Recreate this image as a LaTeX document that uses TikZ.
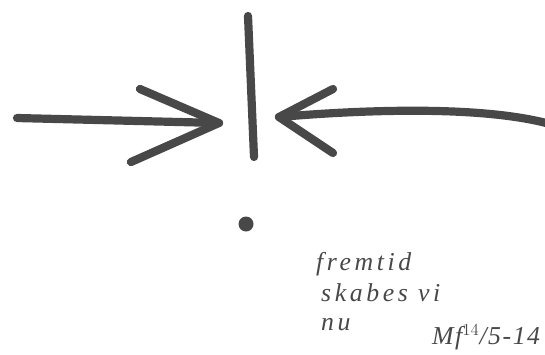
\documentclass[tikz,border=0pt]{standalone}
\usepackage{fontspec}
\setmainfont{Liberation Serif}
\usetikzlibrary{positioning}
\definecolor{ink}{RGB}{72,72,72}
\tikzset{
    marker/.style={draw=ink, line width=7pt, line cap=round, line join=round},
    scrawl/.style={font=\itshape\fontsize{22}{24}\selectfont\addfontfeature{LetterSpace=14}, text=ink, anchor=west, inner sep=0pt},
    signature/.style={scrawl, font=\itshape\fontsize{22}{24}\selectfont\addfontfeature{LetterSpace=6}}
}
\begin{document}
\begin{tikzpicture}[x=0.03cm, y=-0.03cm]
\useasboundingbox (0,0) rectangle (545,354);

% Left arrow
\coordinate (ltail) at (17,118);
\coordinate (ltip) at (219,123);
\coordinate (lup) at (140,89);
\coordinate (llow) at (131,162);
\draw[marker] (ltail) -- (ltip);
\draw[marker] (lup) -- (ltip) -- (llow);

% Wall
\coordinate (wtop) at (248,16);
\coordinate (wbot) at (254,157);
\draw[marker] (wtop) -- (wbot);

% Right arrow
\coordinate (rtip) at (279,117);
\coordinate (rtail) at (550,124);
\coordinate (rup) at (333,89);
\coordinate (rlow) at (333,153);
\draw[marker] (rtip) .. controls (360,110) and (480,105) .. (rtail);
\draw[marker] (rup) -- (rtip) -- (rlow);

% Dot
\node[circle, fill=ink, inner sep=0pt, minimum size=0.45cm] (dot) at (246,224) {};

% Text
\node[scrawl] (line1) at (316,264) {fremtid};
\node[scrawl] (line2) at (321,293) {skabes vi};
\node[scrawl] (line3) at (321,325) {nu};
\node[signature] (sign) at (432,337) {Mf$^{14}$/5-14};

\end{tikzpicture}
\end{document}
